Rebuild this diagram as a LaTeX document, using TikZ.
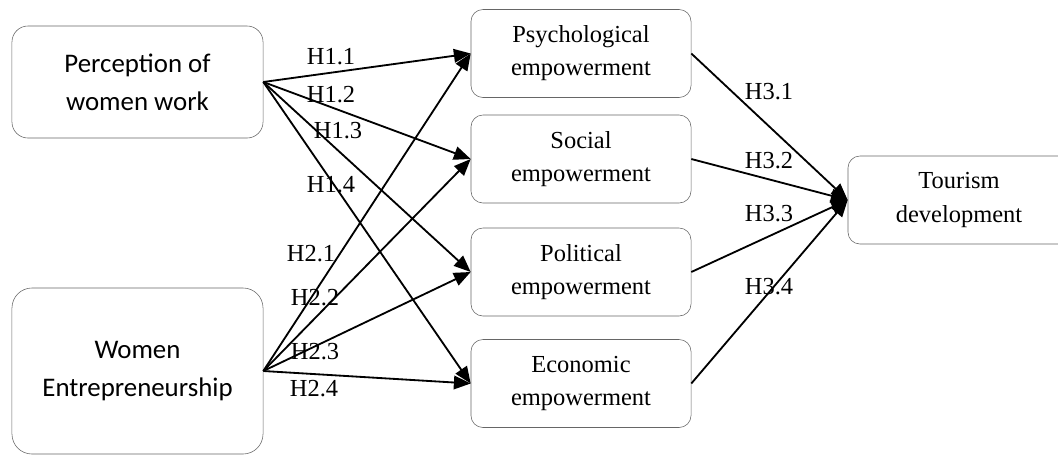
\documentclass[tikz,border=0pt]{standalone}
\usepackage{fontspec}
\setmainfont{Liberation Serif}
\newfontfamily\carlito{Carlito}
\usepackage{tikz}
\usetikzlibrary{arrows.meta}

\begin{document}
\begin{tikzpicture}[x=0.025cm, y=-0.025cm,
    blk/.style={draw=black!60, line width=0.4pt, rounded corners=0.3cm, minimum width=5.5cm, minimum height=2.2cm, align=center, font=\fontsize{17.4}{23.5}\selectfont},
    src/.style={blk, rounded corners=0.4cm, minimum width=6.275cm, font=\carlito\fontsize{19.1}{26.9}\selectfont},
    hyp/.style={inner sep=0pt, font=\fontsize{17.4}{20}\selectfont},
    arr/.style={-{Triangle[length=0.42cm, width=0.34cm]}, line width=1.3pt}]
      \clip (0,0) rectangle (1058,455);

      \node[src, minimum height=2.8cm] (perc) at (137.5, 82){Perception of\\women work};
      \node[src, minimum height=4.15cm, rounded corners=0.5cm] (entr) at (137.5, 371){Women\\Entrepreneurship};
      \node[blk] (psy) at (581, 53.5){Psychological\\empowerment};
      \node[blk] (soc) at (581, 159){Social\\empowerment};
      \node[blk] (pol) at (581, 272){Political\\empowerment};
      \node[blk] (eco) at (581, 383.5){Economic\\empowerment};
      \node[blk, minimum width=5.55cm] (tour) at (959, 200){Tourism\\development};

      \draw[arr] (perc.east) -- (psy.west);
      \draw[arr] (perc.east) -- (soc.west);
      \draw[arr] (perc.east) -- (pol.west);
      \draw[arr] (perc.east) -- (eco.west);
      \draw[arr] (entr.east) -- (psy.west);
      \draw[arr] (entr.east) -- (soc.west);
      \draw[arr] (entr.east) -- (pol.west);
      \draw[arr] (entr.east) -- (eco.west);
      \draw[arr] (psy.east) -- (tour.west);
      \draw[arr] (soc.east) -- (tour.west);
      \draw[arr] (pol.east) -- (tour.west);
      \draw[arr] (eco.east) -- (tour.west);

      \node[hyp] (h11) at (331, 57){H1.1};
      \node[hyp] (h12) at (331, 95){H1.2};
      \node[hyp] (h13) at (338, 131){H1.3};
      \node[hyp] (h14) at (331, 185){H1.4};
      \node[hyp] (h21) at (311, 254){H2.1};
      \node[hyp] (h22) at (315, 298){H2.2};
      \node[hyp] (h23) at (315, 352){H2.3};
      \node[hyp] (h24) at (314, 389){H2.4};
      \node[hyp] (h31) at (769, 92){H3.1};
      \node[hyp] (h32) at (769, 161){H3.2};
      \node[hyp] (h33) at (769, 214){H3.3};
      \node[hyp] (h34) at (769, 287){H3.4};
\end{tikzpicture}
\end{document}
